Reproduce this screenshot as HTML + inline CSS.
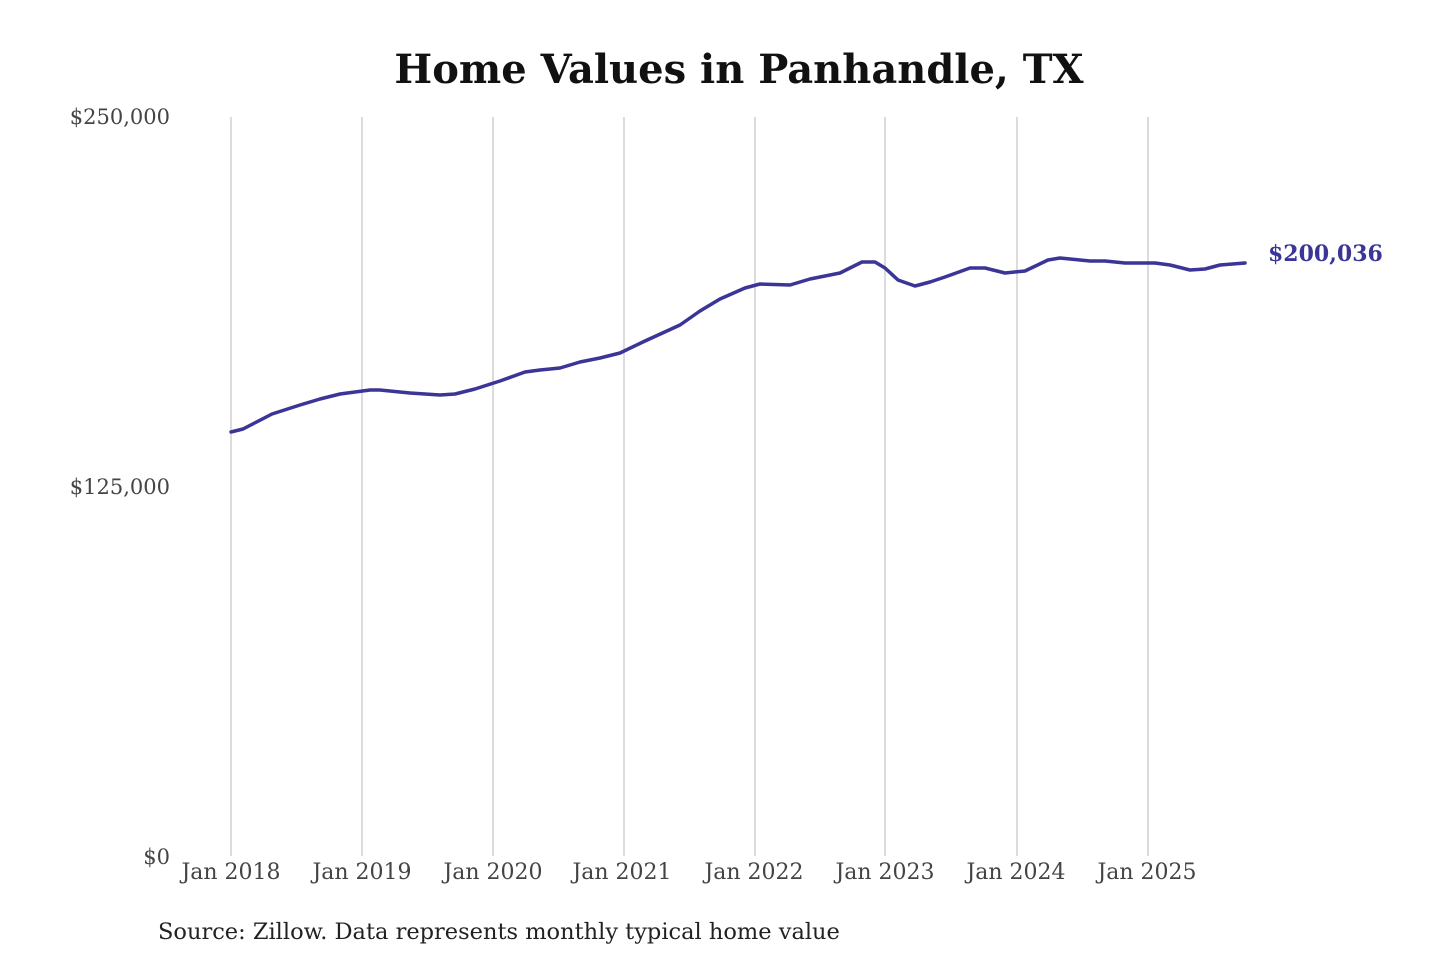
<!DOCTYPE html>
<html><head><meta charset="utf-8"><style>
html,body{margin:0;padding:0;background:#fff;width:1440px;height:960px;overflow:hidden}
</style></head><body>
<svg width="1440" height="960" xmlns="http://www.w3.org/2000/svg" font-family="'DejaVu Serif','Liberation Serif',serif">
<text x="739" y="83" text-anchor="middle" font-size="40" font-weight="bold" fill="#111">Home Values in Panhandle, TX</text>
<g stroke="#c8c8c8" stroke-width="1.3">
<line x1="231" y1="117" x2="231" y2="856"/><line x1="362" y1="117" x2="362" y2="856"/>
<line x1="493" y1="117" x2="493" y2="856"/><line x1="624" y1="117" x2="624" y2="856"/>
<line x1="755" y1="117" x2="755" y2="856"/><line x1="885" y1="117" x2="885" y2="856"/>
<line x1="1017" y1="117" x2="1017" y2="856"/><line x1="1148" y1="117" x2="1148" y2="856"/>
</g>
<g font-size="21" fill="#444" text-anchor="end">
<text x="170" y="124">$250,000</text>
<text x="170" y="494">$125,000</text>
<text x="170" y="864">$0</text>
</g>
<g font-size="22" fill="#444" text-anchor="middle">
<text x="231" y="879">Jan 2018</text><text x="362" y="879">Jan 2019</text>
<text x="493" y="879">Jan 2020</text><text x="622" y="879">Jan 2021</text>
<text x="754" y="879">Jan 2022</text><text x="885" y="879">Jan 2023</text>
<text x="1016" y="879">Jan 2024</text><text x="1147" y="879">Jan 2025</text>
</g>
<polyline fill="none" stroke="#3a3596" stroke-width="3.5" stroke-linejoin="round" stroke-linecap="round"
points="231,432 243,429 272,414 300,405 320,399 340,394 370,390 380,390 410,393 440,395 455,394 475,389 500,381 525,372 540,370 560,368 580,362 600,358 620,353 645,341 680,325 700,311 720,299 745,288 760,284 790,285 810,279 840,273 862,262 875,262 885,268 898,280 915,286 930,282 945,277 970,268 985,268 1005,273 1025,271 1048,260 1060,258 1090,261 1105,261 1125,263 1155,263 1170,265 1190,270 1205,269 1220,265 1245,263"/>
<text x="1268" y="261" font-size="22" font-weight="bold" fill="#3a3596">$200,036</text>
<text x="158" y="939" font-size="22.5" fill="#222">Source: Zillow. Data represents monthly typical home value</text>
</svg>
</body></html>
